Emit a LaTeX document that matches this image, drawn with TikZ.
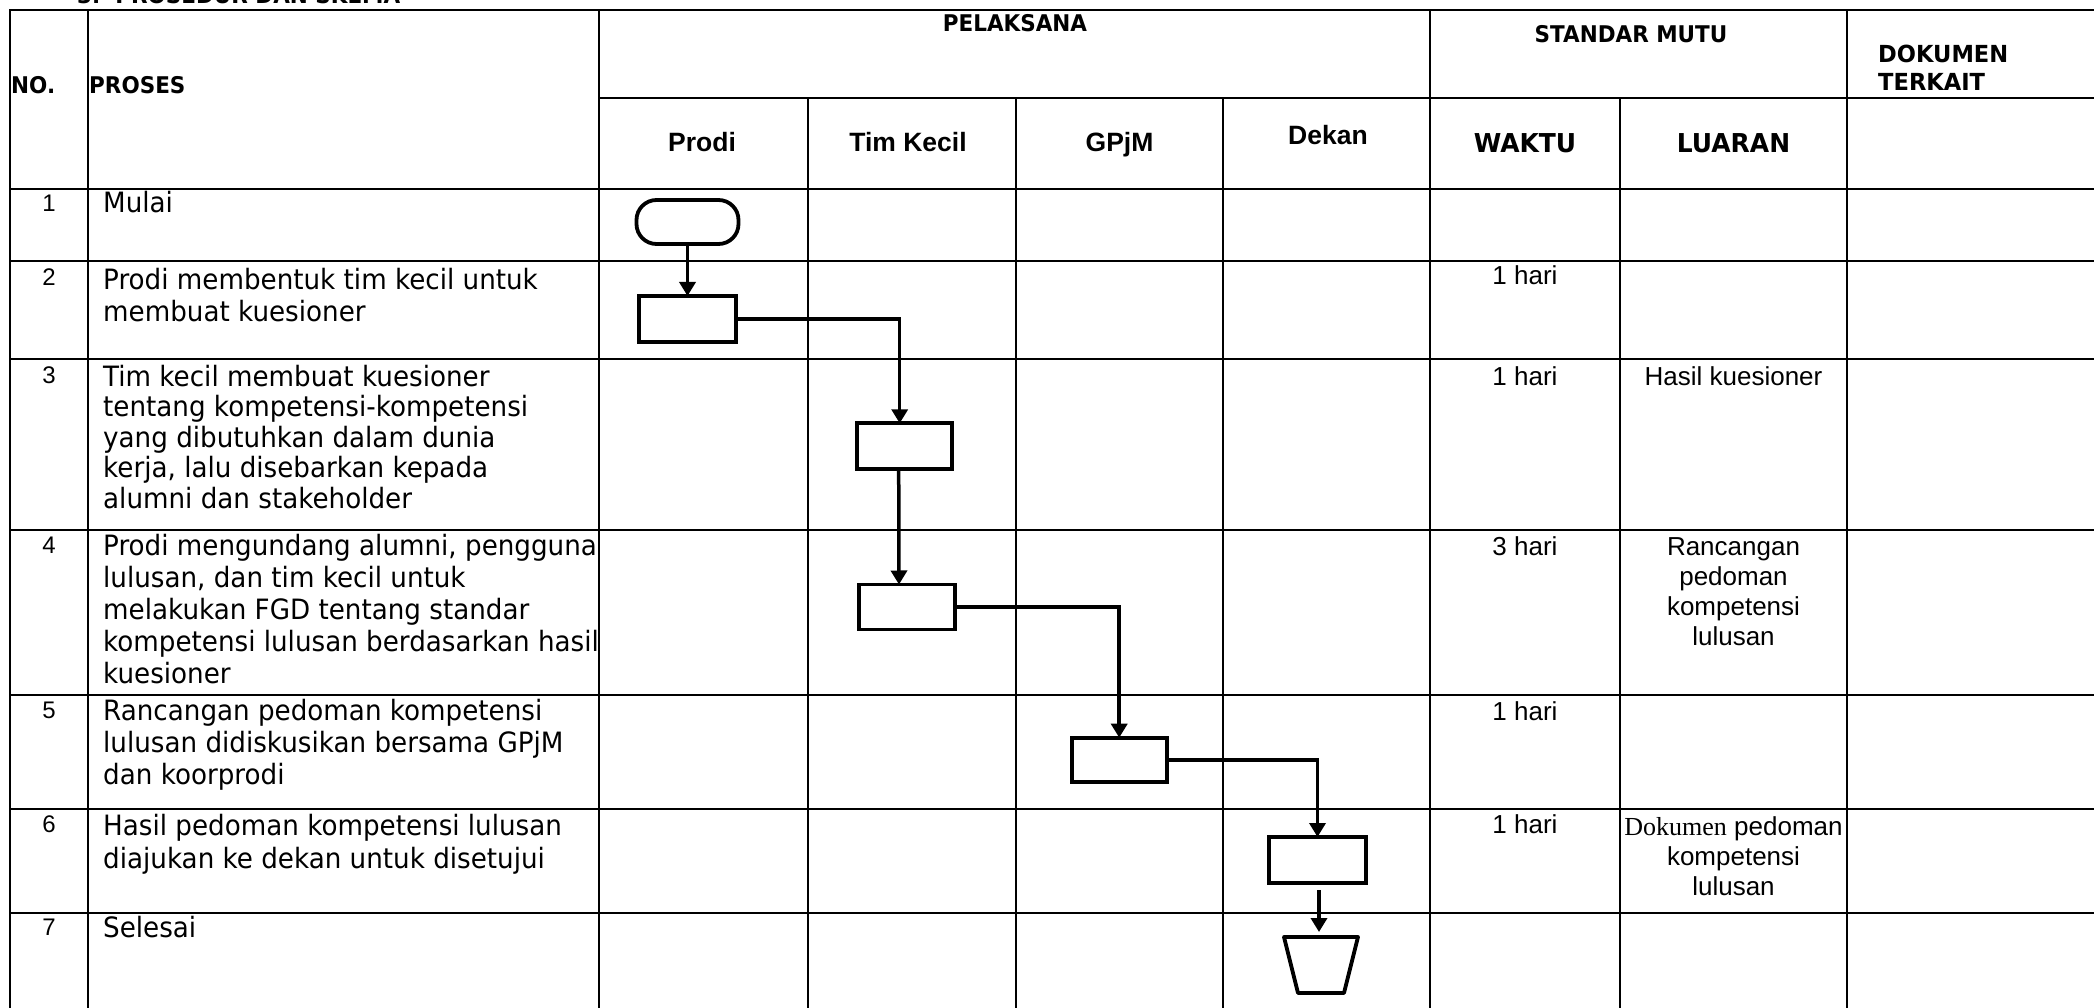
\documentclass[tikz,border=0pt]{standalone}
\usepackage{fontspec}
\usetikzlibrary{arrows.meta}
\newfontfamily\tah[FakeStretch=0.935]{DejaVu Sans}
\newfontfamily\tahh[FakeStretch=0.96]{DejaVu Sans}
\newfontfamily\ari{Liberation Sans}
\newfontfamily\tms{Liberation Serif}
\newcommand\Lst[2]{\vtop{\baselineskip=#1pt\lineskiplimit=-100pt\lineskip=0pt\halign{##\hfil\cr#2\crcr}}}
\newcommand\Cst[2]{\vtop{\baselineskip=#1pt\lineskiplimit=-100pt\lineskip=0pt\halign{\hfil##\hfil\cr#2\crcr}}}
\tikzset{
  tline/.style={line width=2.3pt, line cap=rect},
  hdr/.style={font={\tah\bfseries\fontsize{23}{28}\selectfont}, inner sep=0pt},
  colhd/.style={font={\ari\bfseries\fontsize{26.5}{30}\selectfont}, inner sep=0pt, anchor=base},
  colhdt/.style={font={\tahh\bfseries\fontsize{26}{30}\selectfont}, inner sep=0pt, anchor=base},
  num/.style={font={\ari\fontsize{24}{28}\selectfont}, inner sep=0pt, anchor=base},
  proc/.style={font={\tah\fontsize{28}{31.5}\selectfont}, inner sep=0pt, anchor=base west},
  std/.style={font={\ari\fontsize{26}{30}\selectfont}, inner sep=0pt, anchor=base},
  box/.style={draw, line width=3.8pt, inner sep=0pt, outer sep=0pt},
  conn/.style={line width=3.5pt, -{Triangle[length=14pt,width=16pt]}},
  outline/.style={line width=3.8pt, line join=round}
}
\begin{document}
\begin{tikzpicture}[x=1pt,y=-1pt]
\useasboundingbox (0,0) rectangle (2094,1008);
% title (cut off by the page edge, as in the source)
\node[hdr, anchor=base west] (title) at (77,4) {3.\ \ PROSEDUR DAN SKEMA};
% table grid
\foreach \yy in {10,189,261,359,530,695,809,913}
  \draw[tline] (10,\yy) -- (2100,\yy);
\draw[tline] (599,98) -- (2100,98);
\foreach \xx in {10,88,599,1430,1847}
  \draw[tline] (\xx,10) -- (\xx,1012);
\foreach \xx in {808,1016,1223,1620}
  \draw[tline] (\xx,98) -- (\xx,1012);
% header texts
\node[hdr, anchor=base west] (hno) at (11,94) {NO.};
\node[hdr, anchor=base west] (hproses) at (89,94) {PROSES};
\node[hdr, anchor=base] (hpel) at (1015,32) {PELAKSANA};
\node[hdr, anchor=base] (hstd) at (1631,43) {STANDAR MUTU};
\node[hdr, anchor=base west, font={\tahh\bfseries\fontsize{23.5}{28}\selectfont}] (hdok) at (1878,63) {\Lst{28}{DOKUMEN\cr TERKAIT}};
\node[colhd] (hprodi) at (702,152) {Prodi};
\node[colhd] (htim) at (908,152) {Tim Kecil};
\node[colhd] (hgpjm) at (1119.5,152) {GPjM};
\node[colhd] (hdekan) at (1328,145) {Dekan};
\node[colhdt] (hwaktu) at (1525,153) {WAKTU};
\node[colhdt] (hluaran) at (1733.5,153) {LUARAN};
% numbers
\node[num] (n1) at (49,212) {1};
\node[num] (n2) at (49,286) {2};
\node[num] (n3) at (49,383) {3};
\node[num] (n4) at (49,553) {4};
\node[num] (n5) at (49,718) {5};
\node[num] (n6) at (49,832) {6};
\node[num] (n7) at (49,935) {7};
% process texts
\node[proc] (p1) at (103,213) {Mulai};
\node[proc] (p2) at (103,290) {\Lst{31.5}{Prodi membentuk tim kecil untuk\cr membuat kuesioner}};
\node[proc] (p3) at (103,386) {\Lst{30.5}{Tim kecil membuat kuesioner\cr tentang kompetensi-kompetensi\cr yang dibutuhkan dalam dunia\cr kerja, lalu disebarkan kepada\cr alumni dan stakeholder}};
\node[proc] (p4) at (103,555) {\Lst{32}{Prodi mengundang alumni, pengguna\cr lulusan, dan tim kecil untuk\cr melakukan FGD tentang standar\cr kompetensi lulusan berdasarkan hasil\cr kuesioner}};
\node[proc] (p5) at (103,720) {\Lst{32}{Rancangan pedoman kompetensi\cr lulusan didiskusikan bersama GPjM\cr dan koorprodi}};
\node[proc] (p6) at (103,835) {\Lst{33}{Hasil pedoman kompetensi lulusan\cr diajukan ke dekan untuk disetujui}};
\node[proc] (p7) at (103,937) {Selesai};
% waktu
\node[std] (w2) at (1525,285) {1 hari};
\node[std] (w3) at (1525,385) {1 hari};
\node[std] (w4) at (1525,555) {3 hari};
\node[std] (w5) at (1525,720) {1 hari};
\node[std] (w6) at (1525,833) {1 hari};
% luaran
\node[std] (l3) at (1733.5,385) {Hasil kuesioner};
\node[std] (l4) at (1733.5,555) {\Cst{30}{Rancangan\cr pedoman\cr kompetensi\cr lulusan}};
\node[std] (l6) at (1733.5,835) {\Cst{30}{{\tms Dokumen} pedoman\cr kompetensi\cr lulusan}};
% flow shapes
\node[box, rounded corners=20pt, minimum width=102pt, minimum height=44pt] (t1) at (687.5,222) {};
\node[box, minimum width=97pt, minimum height=46pt] (b2) at (687.5,319) {};
\node[box, minimum width=95pt, minimum height=46pt] (b3) at (904.7,446.3) {};
\node[box, minimum width=96pt, minimum height=45pt] (b4) at (907,607) {};
\node[box, minimum width=95pt, minimum height=44.6pt] (b5) at (1119.2,760) {};
\node[box, minimum width=97pt, minimum height=46pt] (b6) at (1317.5,860) {};
% end symbol (trapezoid)
\coordinate (endtop) at (1319,937);
\draw[outline] (1284,937) -- (1358,937) -- (1344,993) -- (1298,993) -- cycle;
% connectors
\draw[conn] (t1) -- (b2);
\draw[conn] (b2.east) -| ([xshift=-5pt]b3.north);
\draw[conn] ([xshift=-6pt]b3.south) -- ([xshift=-8pt]b4.north);
\draw[conn] (b4.east) -| (b5.north);
\draw[conn] (b5.east) -| (b6.north);
\draw[conn, shorten <=7pt, shorten >=5pt] ([xshift=1.5pt]b6.south) -- (endtop);
\end{tikzpicture}
\end{document}
